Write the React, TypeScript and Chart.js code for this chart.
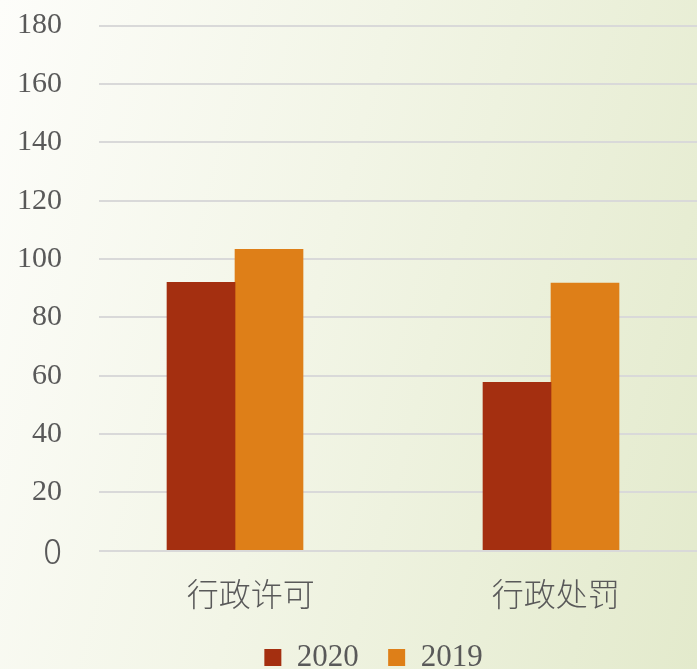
import React, { useEffect, useRef } from "react";
import { Chart, registerables } from "chart.js";

Chart.register(...registerables);

const categories = ["行政许可", "行政处罚"];
const series2020 = [92, 57.7];
const series2019 = [103.3, 91.7];
const seriesLabels = ["2020", "2019"];
const yTicks = [0, 20, 40, 60, 80, 100, 120, 140, 160, 180];

const categoryLabelPositions = [0.05, 1.015];

export default function App() {
  const ref = useRef<HTMLCanvasElement | null>(null);

  useEffect(() => {
    document.body.style.margin = "0";
    const canvas = ref.current;
    if (!canvas) return;

    const shiftLegend = {
      id: "shiftLegend",
      afterLayout(chart: any) {
        const lg = chart.legend;
        if (lg) {
          lg.left += 25;
          lg.right += 25;
        }
      },
    };

    const chart = new Chart(canvas, {
      type: "bar",
      data: {
        datasets: [
          {
            label: seriesLabels[0],
            data: series2020.map((v, i) => ({ x: i, y: v })),
            backgroundColor: "#a42f10",
            borderWidth: 0,
            barThickness: 68,
          },
          {
            label: seriesLabels[1],
            data: series2019.map((v, i) => ({ x: i, y: v })),
            backgroundColor: "#de7f18",
            borderWidth: 0,
            barThickness: 68,
          },
        ] as any,
      },
      options: {
        animation: false,
        responsive: false,
        maintainAspectRatio: false,
        layout: { padding: { top: 25.6, left: 0, right: 0, bottom: 0 } },
        plugins: {
          tooltip: { enabled: false },
          legend: {
            position: "bottom",
            labels: {
              boxWidth: 17,
              boxHeight: 17,
              padding: 29.3,
              color: "#595959",
              font: { family: "'Liberation Serif', serif", size: 31 },
            },
          },
        },
        scales: {
          x: {
            type: "linear",
            offset: false,
            min: -0.4304,
            max: 1.462,
            grid: { display: false, drawTicks: false, offset: false },
            border: { display: false },
            afterBuildTicks(scale: any) {
              scale.ticks = categoryLabelPositions.map((v) => ({ value: v }));
            },
            afterFit(scale: any) {
              scale.height = 62;
            },
            ticks: {
              padding: 23.6,
              maxRotation: 0,
              color: "#595959",
              font: { family: "'Noto Sans CJK SC', sans-serif", size: 32, weight: 300 as any, lineHeight: 1.2 },
              callback: (_v: any, i: number) => categories[i],
            },
          },
          y: {
            min: 0,
            max: 180,
            afterBuildTicks(scale: any) {
              scale.ticks = yTicks.map((v) => ({ value: v }));
            },
            afterFit(scale: any) {
              scale.width = 99;
            },
            grid: { color: "#d9d9d9", lineWidth: 2, drawTicks: true, tickLength: 37, tickColor: "rgba(0,0,0,0)" },
            border: { display: false },
            ticks: {
              padding: 0,
              color: "#595959",
              font: (ctx: any) =>
                ctx.tick && ctx.tick.value === 0
                  ? { family: "'Noto Sans CJK SC', sans-serif", size: 35, weight: 300 as any }
                  : { family: "'Liberation Serif', serif", size: 30 },
            },
          },
        },
      },
      plugins: [shiftLegend],
    });

    return () => chart.destroy();
  }, []);

  return (
    <div
      style={{
        position: "absolute",
        left: 0,
        top: 0,
        width: 697,
        height: 669,
        overflow: "hidden",
        background: "linear-gradient(105deg, #fdfdfa 0%, #f2f5e6 45%, #e3eacc 100%)",
      }}
    >
      <canvas ref={ref} width={697} height={683} style={{ display: "block", width: 697, height: 683 }} />
    </div>
  );
}
